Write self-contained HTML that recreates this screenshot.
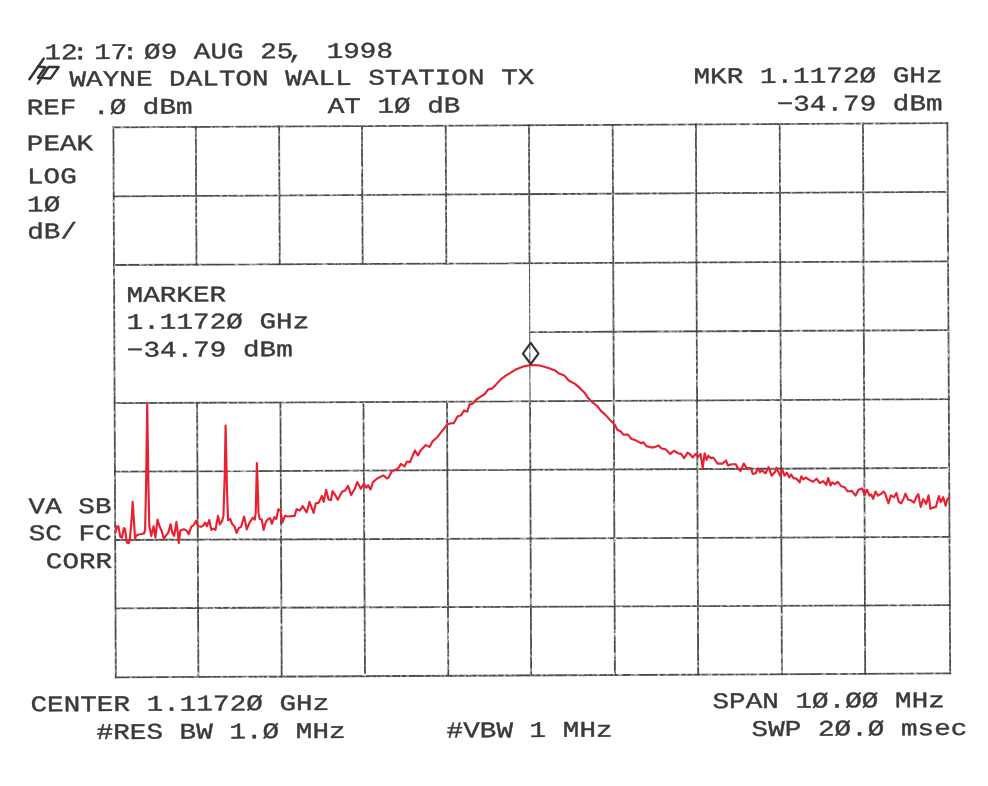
<!DOCTYPE html>
<html lang="en"><head><meta charset="utf-8"><title>Spectrum analyzer plot - WAYNE DALTON WALL STATION TX</title>
<style>
html,body{margin:0;padding:0;background:#fff;}
body{width:988px;height:786px;overflow:hidden;position:relative;}
svg{position:absolute;left:0;top:0;}
#scan{position:absolute;left:0;top:0;width:988px;height:786px;transform-origin:531.8px 400.4px;transform:rotate(-0.27deg);}
.t{position:absolute;white-space:nowrap;font-family:"Liberation Mono",monospace;font-size:22.3px;line-height:22.3px;color:#3a3a3a;
   transform-origin:0 0;transform:scaleX(1.2407);-webkit-text-stroke:0.38px #3a3a3a;}
.c{position:relative;left:-4.6px;}
</style></head>
<body>
<svg width="988" height="786" viewBox="0 0 988 786">
<defs>
<filter id="rough" x="0" y="0" width="988" height="786" filterUnits="userSpaceOnUse">
<feTurbulence type="fractalNoise" baseFrequency="0.3" numOctaves="2" seed="7" result="n"/>
<feDisplacementMap in="SourceGraphic" in2="n" scale="1.1" xChannelSelector="R" yChannelSelector="G" result="d"/>
<feColorMatrix in="n" type="matrix" values="0 0 0 0 0  0 0 0 0 0  0 0 0 0 0  0 0 2.2 0 -0.15" result="a"/>
<feComposite in="d" in2="a" operator="in"/>
</filter>
</defs>
<g stroke="#484848" stroke-width="1.8" fill="none" stroke-linecap="square" filter="url(#rough)">
<line x1="113.41" y1="127.31" x2="947.39" y2="123.21"/>
<line x1="113.71" y1="196.40" x2="947.74" y2="191.81"/>
<line x1="114.01" y1="265.00" x2="948.09" y2="261.40"/>
<line x1="529.78" y1="332.11" x2="948.44" y2="330.10"/>
<line x1="114.61" y1="403.20" x2="948.79" y2="399.15"/>
<line x1="114.91" y1="471.70" x2="949.14" y2="467.90"/>
<line x1="115.21" y1="540.00" x2="949.50" y2="536.90"/>
<line x1="115.51" y1="608.30" x2="949.84" y2="605.10"/>
<line x1="115.81" y1="677.39" x2="950.19" y2="673.39"/>
<line x1="113.41" y1="127.31" x2="115.81" y2="677.39"/>
<line x1="195.81" y1="126.90" x2="196.46" y2="264.65"/>
<line x1="197.11" y1="402.80" x2="198.41" y2="677.00"/>
<line x1="279.11" y1="126.49" x2="279.76" y2="264.29"/>
<line x1="280.41" y1="402.40" x2="281.71" y2="676.60"/>
<line x1="361.90" y1="126.08" x2="362.68" y2="263.93"/>
<line x1="363.46" y1="401.99" x2="365.00" y2="676.20"/>
<line x1="445.70" y1="125.67" x2="446.35" y2="263.57"/>
<line x1="447.01" y1="401.59" x2="448.30" y2="675.80"/>
<line x1="528.95" y1="125.26" x2="529.50" y2="263.21"/>
<line x1="529.50" y1="263.21" x2="530.05" y2="401.18" stroke-width="1.1"/>
<line x1="530.05" y1="401.18" x2="531.15" y2="675.40"/>
<line x1="612.70" y1="124.85" x2="614.90" y2="675.00"/>
<line x1="695.90" y1="124.44" x2="698.20" y2="674.60"/>
<line x1="779.70" y1="124.03" x2="781.90" y2="674.20"/>
<line x1="862.99" y1="123.62" x2="865.19" y2="673.80"/>
<line x1="947.39" y1="123.21" x2="950.19" y2="673.39"/>
</g>
<path d="M115.3 532.9 L117.1 526.2 L118.4 526.2 L120.2 536.5 L122.0 537.7 L123.8 528.0 L125.0 529.2 L126.9 542.6 L128.7 543.2 L129.9 538.9 L131.5 520.7 L132.7 501.9 L133.9 520.7 L135.1 538.9 L136.0 535.9 L137.8 534.7 L143.9 533.5 L145.1 530.4 L146.1 484.3 L147.2 403.6 L148.4 484.3 L149.3 525.6 L151.2 535.9 L153.6 526.2 L155.4 537.7 L157.5 519.5 L159.7 526.8 L161.5 530.4 L163.9 538.9 L165.7 535.9 L168.2 532.9 L170.6 524.4 L172.4 532.9 L174.2 535.9 L176.4 521.9 L177.9 534.1 L178.8 543.2 L180.3 530.4 L183.9 529.2 L186.4 530.4 L188.8 534.1 L191.2 526.8 L193.7 525.0 L196.1 520.7 L197.9 526.2 L201.0 526.8 L203.4 525.6 L205.2 522.6 L207.0 526.2 L209.2 520.1 L211.3 529.8 L213.7 528.6 L215.5 529.8 L218.0 515.9 L219.8 524.4 L222.2 520.7 L223.4 515.9 L224.7 476.4 L225.6 425.5 L227.1 494.7 L228.1 520.2 L230.2 518.9 L232.0 523.8 L234.4 526.2 L236.6 532.9 L238.7 528.1 L241.1 526.8 L244.1 516.5 L246.8 529.3 L249.6 522.6 L252.7 517.7 L254.8 519.6 L255.7 512.9 L256.3 488.6 L256.9 463.1 L257.8 488.6 L258.5 512.9 L259.7 518.9 L261.8 519.6 L263.6 529.9 L266.0 521.4 L268.4 518.9 L270.3 518.3 L271.8 523.8 L274.5 517.1 L276.3 518.9 L278.4 509.2 L280.6 510.4 L282.4 522.6 L284.8 515.9 L287.9 516.5 L294.6 515.9 L296.6 509.2 L300.0 510.4 L302.7 506.2 L306.7 512.3 L309.5 501.9 L313.6 512.9 L315.8 503.2 L318.8 502.6 L321.9 495.9 L323.7 501.9 L326.1 489.8 L328.6 499.5 L331.0 500.1 L332.6 491.0 L335.0 494.7 L337.8 499.7 L342.0 491.8 L345.0 490.6 L348.1 485.8 L351.1 494.9 L354.8 488.8 L357.2 482.1 L360.8 488.8 L363.9 483.9 L366.3 487.6 L368.1 485.2 L370.5 489.4 L373.0 482.1 L377.2 478.5 L383.3 475.4 L386.9 478.5 L388.8 477.3 L391.8 471.2 L397.9 468.8 L400.9 463.9 L404.6 466.3 L407.0 461.5 L410.0 462.1 L414.9 450.5 L417.9 455.4 L421.0 449.9 L425.8 445.1 L429.5 446.9 L432.5 441.4 L436.7 437.8 L441.6 431.7 L445.0 427.5 L447.1 424.4 L450.8 423.2 L453.8 423.2 L457.5 416.5 L461.1 415.3 L464.1 410.4 L467.2 411.7 L469.6 404.4 L472.7 403.8 L476.3 399.5 L479.9 397.1 L484.8 394.0 L488.4 389.2 L492.1 388.6 L495.7 384.9 L500.6 379.5 L505.4 375.8 L510.3 372.8 L515.2 369.8 L520.0 367.7 L524.9 366.1 L529.7 365.3 L534.6 365.1 L539.5 365.5 L544.3 366.7 L549.2 368.2 L555.0 370.4 L558.4 373.2 L564.4 375.6 L568.7 380.5 L575.4 384.1 L580.2 388.4 L584.5 392.7 L588.1 398.1 L591.8 401.8 L597.2 406.0 L600.9 410.9 L605.7 415.1 L610.6 420.6 L614.8 424.8 L617.3 429.7 L620.9 431.5 L623.3 434.6 L628.2 434.6 L631.2 438.8 L636.1 440.6 L641.0 443.1 L643.4 442.4 L646.4 446.1 L650.7 447.3 L654.3 447.3 L658.6 445.5 L661.6 448.5 L665.0 449.1 L665.9 449.6 L670.2 453.9 L673.8 450.8 L678.1 453.3 L681.1 453.9 L684.1 458.1 L687.6 452.7 L690.2 454.5 L692.7 457.5 L695.7 453.9 L698.1 456.9 L700.5 453.9 L702.7 467.8 L704.6 453.3 L706.6 459.9 L708.4 455.7 L710.9 458.1 L713.3 457.5 L717.6 463.6 L722.4 463.6 L726.1 460.5 L727.9 465.4 L731.5 464.2 L735.8 464.2 L738.2 469.0 L740.6 470.9 L743.7 463.6 L746.7 467.8 L751.0 468.4 L752.8 473.9 L755.8 473.3 L757.6 468.4 L760.1 472.1 L761.9 470.3 L765.5 473.3 L768.6 467.2 L771.6 475.7 L775.0 472.1 L776.5 467.8 L780.2 475.7 L782.6 470.2 L784.4 475.7 L786.9 472.7 L789.3 477.5 L791.1 474.5 L793.5 478.1 L796.6 478.7 L799.6 482.4 L801.4 476.3 L803.3 479.3 L805.7 477.5 L809.3 479.9 L813.0 481.8 L816.6 478.7 L819.7 483.0 L823.3 481.2 L826.3 484.8 L828.2 478.1 L830.6 485.4 L832.4 482.4 L834.8 484.2 L837.9 481.8 L840.9 486.0 L844.6 487.2 L847.6 491.5 L851.8 490.9 L855.5 495.7 L858.5 489.7 L862.2 488.4 L864.6 495.1 L867.0 489.7 L869.5 495.7 L871.3 494.5 L873.1 498.8 L875.5 491.5 L878.0 495.7 L881.0 493.9 L883.4 491.5 L885.0 493.3 L888.5 503.3 L891.0 495.4 L894.0 497.2 L896.4 493.0 L898.9 502.1 L901.3 503.3 L903.7 498.4 L905.5 493.6 L908.0 499.7 L911.0 500.3 L914.0 502.7 L916.5 496.6 L918.3 494.2 L920.7 506.9 L923.2 499.0 L926.2 503.9 L928.6 495.4 L930.4 508.8 L932.9 507.6 L935.9 506.9 L938.9 496.0 L940.8 502.1 L943.2 497.2 L945.6 505.7 L947.4 499.0 L949.3 497.2" fill="none" stroke="#ea2030" stroke-width="2.15" stroke-linejoin="round" stroke-linecap="round"/>
<g fill="none" stroke="#333" stroke-width="2.5" stroke-linecap="round" stroke-linejoin="round">
<path d="M530.7 342.9 L538.5 353.6 L530.7 364 L522.9 353.6 Z" stroke-width="2.1"/>
<path d="M43.7 58.6 L29.4 79.2"/>
<path d="M37.8 66.6 L45.4 67.2 L38 77.6"/>
<path d="M37.9 83.4 L48.6 66.9 L58.6 67.1 L50.6 78.4 L38.6 77.8"/>
</g>

</svg>
<div id="scan">
<div class="t" id="t0" style="left:45.5px;top:39.85px">12<span class="c">:</span>17<span class="c">:</span>Ø9&nbsp;AUG&nbsp;25<span class="c">,</span>&nbsp;1998</div>
<div class="t" id="t1" style="left:70.5px;top:67.45px">WAYNE&nbsp;DALTON&nbsp;WALL&nbsp;STATION&nbsp;TX</div>
<div class="t" id="t2" style="left:27.5px;top:95.25px">REF&nbsp;.Ø&nbsp;dBm</div>
<div class="t" id="t3" style="left:328.5px;top:95.25px">AT&nbsp;1Ø&nbsp;dB</div>
<div class="t" id="t4" style="left:695.0px;top:67.45px">MKR&nbsp;1.1172Ø&nbsp;GHz</div>
<div class="t" id="t5" style="left:778.0px;top:95.25px">−34.79&nbsp;dBm</div>
<div class="t" id="t6" style="left:27.5px;top:130.85px">PEAK</div>
<div class="t" id="t7" style="left:27.5px;top:164.05px">LOG</div>
<div class="t" id="t8" style="left:27.5px;top:191.95px">1Ø</div>
<div class="t" id="t9" style="left:27.5px;top:219.45px">dB/</div>
<div class="t" id="t10" style="left:127.0px;top:282.95px">MARKER</div>
<div class="t" id="t11" style="left:127.0px;top:310.15px">1.1172Ø&nbsp;GHz</div>
<div class="t" id="t12" style="left:127.0px;top:337.55px">−34.79&nbsp;dBm</div>
<div class="t" id="t13" style="left:28.2px;top:493.85px">VA&nbsp;SB</div>
<div class="t" id="t14" style="left:28.2px;top:521.35px">SC&nbsp;FC</div>
<div class="t" id="t15" style="left:45.0px;top:548.75px">CORR</div>
<div class="t" id="t16" style="left:28.7px;top:692.35px">CENTER&nbsp;1.1172Ø&nbsp;GHz</div>
<div class="t" id="t17" style="left:95.4px;top:720.25px">#RES&nbsp;BW&nbsp;1.Ø&nbsp;MHz</div>
<div class="t" id="t18" style="left:445.0px;top:720.25px">#VBW&nbsp;1&nbsp;MHz</div>
<div class="t" id="t19" style="left:711.3px;top:692.35px">SPAN&nbsp;1Ø.ØØ&nbsp;MHz</div>
<div class="t" id="t20" style="left:750.0px;top:720.25px">SWP&nbsp;2Ø.Ø&nbsp;msec</div>
</div>
</body></html>
